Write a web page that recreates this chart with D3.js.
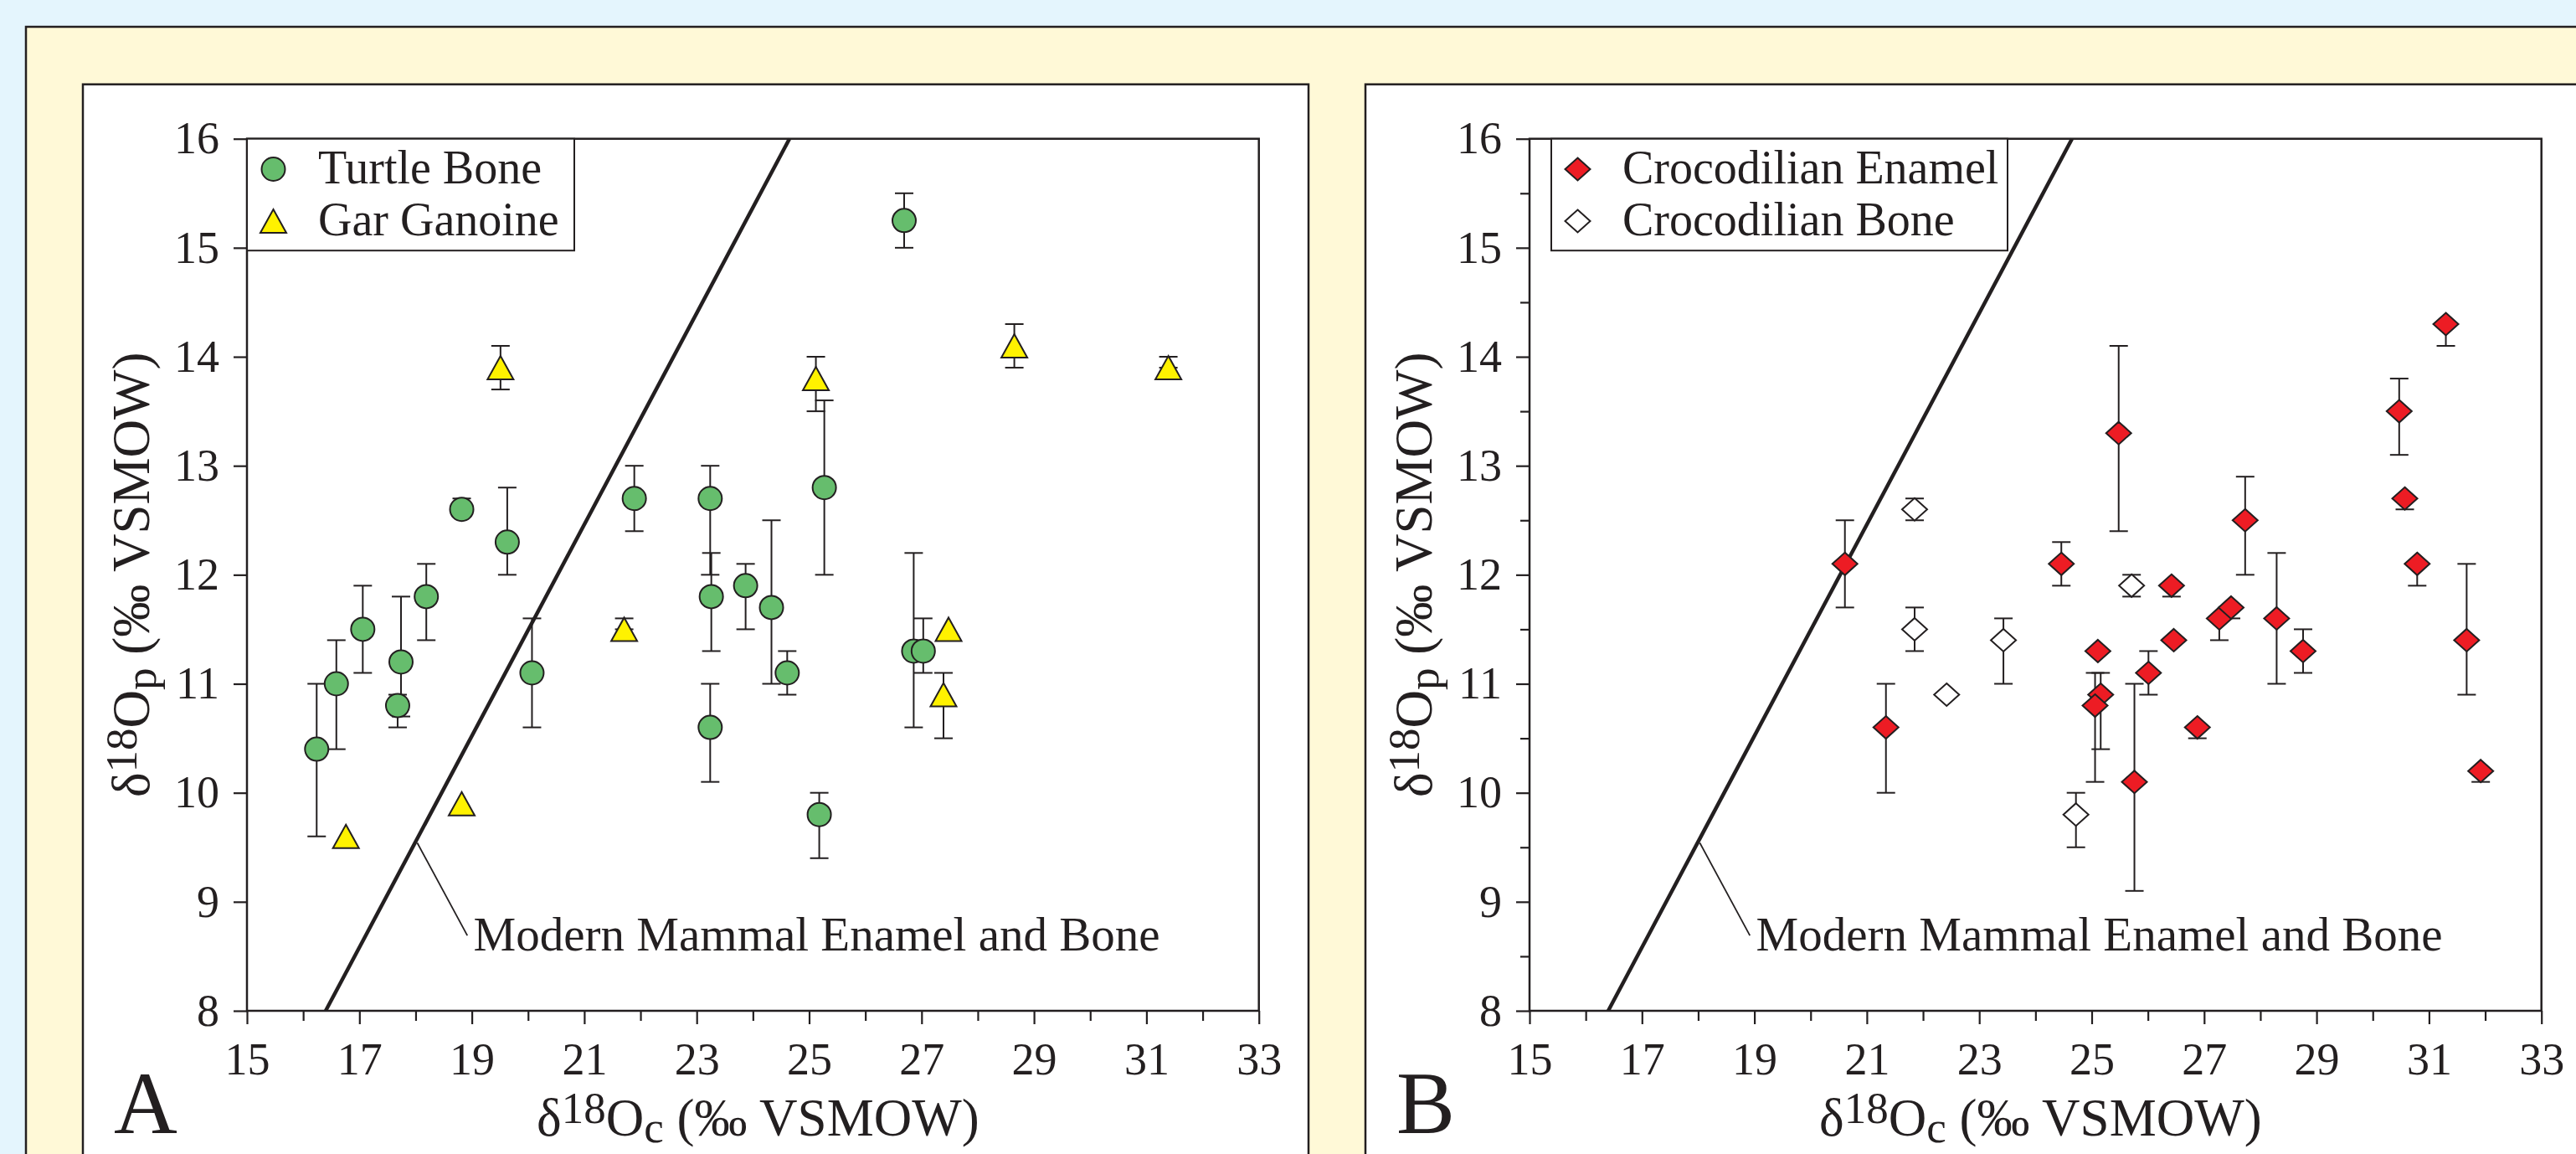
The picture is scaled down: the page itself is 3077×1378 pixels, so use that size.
<!DOCTYPE html>
<html>
<head>
<meta charset="utf-8">
<script src="https://cdnjs.cloudflare.com/ajax/libs/d3/7.8.5/d3.min.js"></script>
<style>
  html, body { margin: 0; padding: 0; background: #e4f5fd; }
  svg { display: block; }
  text { font-family: "Liberation Serif", "Times New Roman", serif; fill: #231f20; }
</style>
</head>
<body>
<script>
// ---- data ----
// panel A : turtle bone (circles)
var turtleX  = [16.24, 16.59, 17.06, 17.74, 17.68, 18.19, 18.82, 19.63, 20.07, 21.89, 23.24, 23.26, 23.24, 23.87, 24.33, 24.61, 25.18, 25.27, 26.69, 26.86, 27.03];
var turtleY  = [10.4, 11.0, 11.5, 11.2, 10.8, 11.8, 12.6, 12.3, 11.1, 12.7, 12.7, 11.8, 10.6, 11.9, 11.7, 11.1, 9.8, 12.8, 15.25, 11.3, 11.3];
var turtleHi = [11.0, 11.4, 11.9, 11.8, 10.9, 12.1, 12.7, 12.8, 11.6, 13.0, 13.0, 12.2, 11.0, 12.1, 12.5, 11.3, 10.0, 13.6, 15.5, 12.2, 11.6];
var turtleLo = [9.6, 10.4, 11.1, 10.7, 10.6, 11.4, 12.6, 12.0, 10.6, 12.4, 12.0, 11.3, 10.1, 11.5, 11.0, 10.9, 9.4, 12.0, 15.0, 10.6, 11.1];

// panel A : gar ganoine (triangles)
var garX  = [16.76, 18.82, 19.51, 21.71, 25.12, 27.39, 27.48, 28.65, 31.39];
var garY  = [9.6, 9.9, 13.9, 11.5, 13.8, 10.9, 11.5, 14.1, 13.9];
var garHi = [null, null, 14.1, 11.6, 14.0, 11.1, null, 14.3, 14.0];
var garLo = [null, null, 13.7, 11.5, 13.5, 10.5, null, 13.9, 13.9];

// panel B : crocodilian enamel (red diamonds)
var enamelX  = [20.61, 21.34, 24.46, 25.11, 25.16, 25.06, 25.48, 25.76, 26.01, 26.42, 26.46, 26.88, 27.27, 27.48, 27.73, 28.29, 28.76, 30.47, 30.57, 30.79, 31.30, 31.67, 31.92];
var enamelY  = [12.1, 10.6, 12.1, 11.3, 10.9, 10.8, 13.3, 10.1, 11.1, 11.9, 11.4, 10.6, 11.6, 11.7, 12.5, 11.6, 11.3, 13.5, 12.7, 12.1, 14.3, 11.4, 10.2];
var enamelHi = [12.5, 11.0, 12.3, null, 11.1, 11.1, 14.1, 11.0, 11.3, 11.9, null, 10.6, 11.6, 11.7, 12.9, 12.2, 11.5, 13.8, 12.7, 12.1, 14.3, 12.1, 10.2];
var enamelLo = [11.7, 10.0, 11.9, null, 10.4, 10.1, 12.4, 9.1, 10.9, 11.8, null, 10.5, 11.4, 11.6, 12.0, 11.0, 11.1, 13.1, 12.6, 11.9, 14.1, 10.9, 10.1];

// panel B : crocodilian bone (open diamonds)
var boneX  = [21.85, 21.85, 22.42, 23.43, 24.72, 25.71];
var boneY  = [12.6, 11.5, 10.9, 11.4, 9.8, 11.9];
var boneHi = [12.7, 11.7, null, 11.6, 10.0, 12.0];
var boneLo = [12.5, 11.3, null, 11.0, 9.5, 11.8];

// modern mammal enamel and bone line, and its label
var mammalX = [16.4, 24.65];
var mammalY = [8, 16];
var leaderX = [18.03, 18.92];
var leaderY = [9.54, 8.69];
var mammalLabel = 'Modern Mammal Enamel and Bone';
var mammalLabelAt = [19.03, 8.55];

// axes
var xMajorTicks = [15, 17, 19, 21, 23, 25, 27, 29, 31, 33];
var xMinorTicks = [16, 18, 20, 22, 24, 26, 28, 30, 32];
var yMajorTicks = [8, 9, 10, 11, 12, 13, 14, 15, 16];
var yMinorTicks = [8.5, 9.5, 10.5, 11.5, 12.5, 13.5, 14.5, 15.5];

var legendA = ['Turtle Bone', 'Gar Ganoine'];
var legendB = ['Crocodilian Enamel', 'Crocodilian Bone'];

// ---- drawing ----
var ink = '#231f20';
var width = 3077, height = 1378;

var svg = d3.select('body')
  .append('svg')
  .attr('width', width)
  .attr('height', height);

svg.append('rect')
  .attr('width', width)
  .attr('height', height)
  .attr('fill', '#e4f5fd');

// cream frame, runs past the right and bottom edges
svg.append('rect')
  .attr('x', 31).attr('y', 32)
  .attr('width', 3300).attr('height', 1500)
  .attr('fill', '#fff9d7')
  .attr('stroke', ink)
  .attr('stroke-width', 2.5);

function zip(xs, ys, his, los) {
  return xs.map(function(d, i) {
    return {x: d, y: ys[i], hi: his ? his[i] : null, lo: los ? los[i] : null};
  });
}

var shapes = {
  circle: function(g) {
    g.append('circle').attr('r', 14);
  },
  triangle: function(g) {
    g.append('path').attr('d', 'M0,-14L15.5,14L-15.5,14Z');
  },
  diamond: function(g) {
    g.append('path').attr('d', 'M0,-13.5L15,0L0,13.5L-15,0Z');
  }
};

var panels = [
  {
    left: 99, panelW: 1464, plotLeft: 295, letter: 'A', yMinor: false,
    series: [
      {data: zip(turtleX, turtleY, turtleHi, turtleLo), shape: 'circle', fill: '#66bd6d'},
      {data: zip(garX, garY, garHi, garLo), shape: 'triangle', fill: '#fff200'}
    ],
    legend: {x: 295, w: 391, names: legendA, shapes: ['circle', 'triangle'], fills: ['#66bd6d', '#fff200']}
  },
  {
    left: 1631, panelW: 1700, plotLeft: 1827, letter: 'B', yMinor: true,
    series: [
      {data: zip(boneX, boneY, boneHi, boneLo), shape: 'diamond', fill: '#ffffff'},
      {data: zip(enamelX, enamelY, enamelHi, enamelLo), shape: 'diamond', fill: '#ed1c24'}
    ],
    legend: {x: 1853, w: 545, names: legendB, shapes: ['diamond', 'diamond'], fills: ['#ed1c24', '#ffffff']}
  }
];

var plotTop = 165.7, plotBottom = 1207, plotW = 1208.7;

panels.forEach(function(p) {
  var g = svg.append('g');

  // white panel
  g.append('rect')
    .attr('x', p.left).attr('y', 100.7)
    .attr('width', p.panelW).attr('height', 1400)
    .attr('fill', '#ffffff')
    .attr('stroke', ink)
    .attr('stroke-width', 2.5);

  var x = d3.scaleLinear().domain([15, 33]).range([p.plotLeft, p.plotLeft + plotW]);
  var y = d3.scaleLinear().domain([8, 16]).range([plotBottom, plotTop]);

  function styleAxis(a) {
    a.attr('color', ink)
      .attr('font-size', 54)
      .attr('font-family', '"Liberation Serif", "Times New Roman", serif');
    a.select('.domain').remove();
    a.selectAll('line').attr('stroke-width', 2.2);
  }

  g.append('g')
    .attr('transform', 'translate(0,' + plotBottom + ')')
    .call(d3.axisBottom(x).tickValues(xMajorTicks).tickSize(16).tickPadding(22).tickFormat(d3.format('d')))
    .call(styleAxis);

  g.append('g')
    .attr('transform', 'translate(0,' + plotBottom + ')')
    .call(d3.axisBottom(x).tickValues(xMinorTicks).tickSize(12).tickFormat(''))
    .call(styleAxis);

  g.append('g')
    .attr('transform', 'translate(' + p.plotLeft + ',0)')
    .call(d3.axisLeft(y).tickValues(yMajorTicks).tickSize(16).tickPadding(17).tickFormat(d3.format('d')))
    .call(styleAxis);

  if (p.yMinor) {
    g.append('g')
      .attr('transform', 'translate(' + p.plotLeft + ',0)')
      .call(d3.axisLeft(y).tickValues(yMinorTicks).tickSize(11).tickFormat(''))
      .call(styleAxis);
  }

  // modern mammal line and label
  var mammal = mammalX.map(function(d, i) { return [d, mammalY[i]]; });
  g.append('path')
    .attr('d', d3.line().x(function(d) { return x(d[0]); }).y(function(d) { return y(d[1]); })(mammal))
    .attr('fill', 'none')
    .attr('stroke', ink)
    .attr('stroke-width', 4.5);

  g.append('line')
    .attr('x1', x(leaderX[0])).attr('y1', y(leaderY[0]))
    .attr('x2', x(leaderX[1])).attr('y2', y(leaderY[1]))
    .attr('stroke', ink)
    .attr('stroke-width', 1.8);

  g.append('text')
    .attr('x', x(mammalLabelAt[0]))
    .attr('y', y(mammalLabelAt[1]))
    .attr('font-size', 57)
    .text(mammalLabel);

  // error bars, then markers
  p.series.forEach(function(s) {
    var withBars = s.data.filter(function(d) { return d.hi !== null; });
    var bars = g.append('g').attr('stroke', ink).attr('stroke-width', 2);
    withBars.forEach(function(d) {
      var cx = x(d.x);
      bars.append('line').attr('x1', cx).attr('x2', cx).attr('y1', y(d.hi)).attr('y2', y(d.lo));
      [d.hi, d.lo].forEach(function(v) {
        bars.append('line').attr('x1', cx - 11).attr('x2', cx + 11).attr('y1', y(v)).attr('y2', y(v));
      });
    });
  });

  p.series.forEach(function(s) {
    s.data.forEach(function(d) {
      var m = g.append('g')
        .attr('transform', 'translate(' + x(d.x) + ',' + y(d.y) + ')')
        .attr('fill', s.fill)
        .attr('stroke', ink)
        .attr('stroke-width', 2);
      shapes[s.shape](m);
    });
  });

  // plot frame
  g.append('rect')
    .attr('x', x(15)).attr('y', y(16))
    .attr('width', x(33) - x(15)).attr('height', y(8) - y(16))
    .attr('fill', 'none')
    .attr('stroke', ink)
    .attr('stroke-width', 2.5);

  // legend
  var L = p.legend;
  g.append('rect')
    .attr('x', L.x).attr('y', plotTop)
    .attr('width', L.w).attr('height', 133.5)
    .attr('fill', '#ffffff')
    .attr('stroke', ink)
    .attr('stroke-width', 2);
  L.names.forEach(function(name, i) {
    var rowY = 202 + i * 62;
    var m = g.append('g')
      .attr('transform', 'translate(' + (L.x + 31.5) + ',' + rowY + ')')
      .attr('fill', L.fills[i])
      .attr('stroke', ink)
      .attr('stroke-width', 2);
    shapes[L.shapes[i]](m);
    g.append('text')
      .attr('x', L.x + 85)
      .attr('y', rowY + 17)
      .attr('font-size', 56)
      .text(name);
  });

  // axis titles
  var cx = (x(15) + x(33)) / 2 + 6;
  var xt = g.append('text')
    .attr('x', cx).attr('y', 1356)
    .attr('text-anchor', 'middle')
    .attr('font-size', 63);
  xt.append('tspan').text('δ');
  xt.append('tspan').attr('font-size', 53).attr('dy', -15).text('18');
  xt.append('tspan').attr('dy', 15).text('O');
  xt.append('tspan').attr('font-size', 53).attr('dy', 8).text('c');
  xt.append('tspan').attr('dy', -8).text(' (‰ VSMOW)');

  var cy = (y(8) + y(16)) / 2;
  var yt = g.append('text')
    .attr('transform', 'translate(' + (p.plotLeft - 117) + ',' + cy + ') rotate(-90)')
    .attr('text-anchor', 'middle')
    .attr('font-size', 63);
  yt.append('tspan').text('δ');
  yt.append('tspan').attr('font-size', 53).attr('dy', -15).text('18');
  yt.append('tspan').attr('dy', 15).text('O');
  yt.append('tspan').attr('font-size', 53).attr('dy', 8).text('p');
  yt.append('tspan').attr('dy', -8).text(' (‰ VSMOW)');

  // panel letter
  g.append('text')
    .attr('x', p.left + 37).attr('y', 1353)
    .attr('font-size', 105)
    .text(p.letter);
});
</script>
</body>
</html>
